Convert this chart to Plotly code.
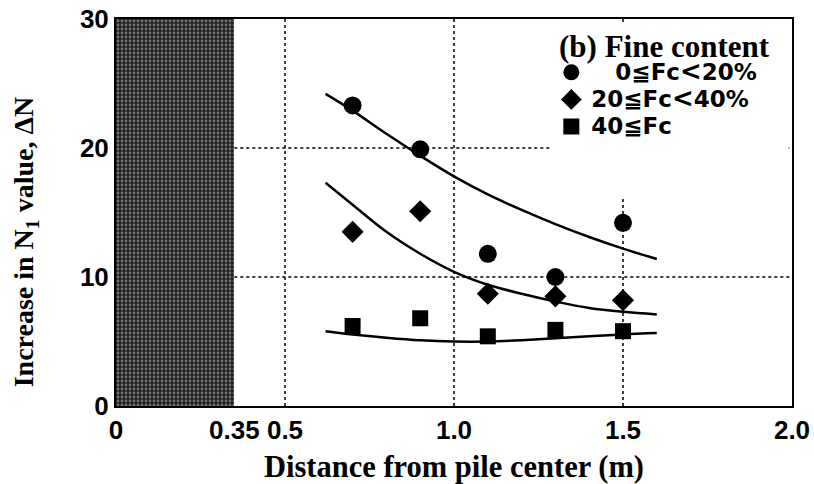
import plotly.graph_objects as go

# ---- data ----
distance = [0.7, 0.9, 1.1, 1.3, 1.5]
dn_fc0_20 = [23.3, 19.9, 11.8, 10.0, 14.2]
dn_fc20_40 = [13.5, 15.1, 8.7, 8.5, 8.2]
dn_fc40 = [6.2, 6.8, 5.4, 5.9, 5.8]

curve_x = [0.62, 0.7, 0.8, 0.9, 1.0, 1.1, 1.2, 1.3, 1.4, 1.5, 1.6]
curve_fc0_20 = [24.2, 22.9, 21.1, 19.4, 17.8, 16.4, 15.2, 14.1, 13.1, 12.2, 11.4]
curve_fc20_40 = [17.3, 15.6, 13.5, 11.8, 10.4, 9.4, 8.7, 8.1, 7.6, 7.3, 7.1]
curve_fc40 = [5.8, 5.55, 5.3, 5.1, 5.0, 5.0, 5.1, 5.25, 5.4, 5.55, 5.65]

pile_radius = 0.35
x_tickvals = [0, 0.35, 0.5, 1.0, 1.5, 2.0]
x_ticktext = ["0", "0.35", "0.5", "1.0", "1.5", "2.0"]
y_tickvals = [0, 10, 20, 30]
x_grid = [0.5, 1.0, 1.5]
y_grid = [10, 20]

LT = "<span style='font-size:26px'>&lt;</span>"
def big(t):
    return "<span style='font-size:23px'>" + t + "</span>"
labels = [big("\u2007 0\u2266Fc" + LT + "20%"), big("20\u2266Fc" + LT + "40%"), big("40\u2266Fc")]

SANS = "Liberation Sans, Arial, sans-serif"
LSANS = "DejaVu Sans, sans-serif"
SERIF = "Liberation Serif, Times New Roman, serif"

fig = go.Figure()

# shaded pile zone
fig.add_trace(go.Bar(
    x=[pile_radius / 2], y=[30], width=[pile_radius],
    marker=dict(color="#202020", line_width=0,
                pattern=dict(shape=".", fgcolor="#c4c4c4", bgcolor="#202020", size=4, solidity=0.4)),
    showlegend=False, hoverinfo="skip"))

for cy in (curve_fc0_20, curve_fc20_40, curve_fc40):
    fig.add_trace(go.Scatter(x=curve_x, y=cy, mode="lines", line=dict(color="black", width=2.5, shape="spline"),
                             showlegend=False, hoverinfo="skip"))

for yv, sym, size, lab in ((dn_fc0_20, "circle", 18, labels[0]),
                           (dn_fc20_40, "diamond", 17, labels[1]),
                           (dn_fc40, "square", 16, labels[2])):
    fig.add_trace(go.Scatter(x=distance, y=yv, mode="markers", name=lab,
                             marker=dict(symbol=sym, size=size, color="black")))

shapes = []
for xv in x_grid:
    shapes.append(dict(type="line", xref="x", yref="y", x0=xv, x1=xv, y0=0, y1=30, layer="below",
                       line=dict(color="black", width=1.5, dash="3px,3px")))
for yv in y_grid:
    shapes.append(dict(type="line", xref="x", yref="y", x0=pile_radius, x1=2.0, y0=yv, y1=yv, layer="below",
                       line=dict(color="black", width=1.5, dash="3px,3px")))
# white legend box hiding grid
shapes.append(dict(type="rect", xref="x", yref="y", x0=1.284, x1=1.99, y0=16.1, y1=29.6, layer="below",
                   line_width=0, fillcolor="white"))

annotations = [
    dict(text="(b) Fine content", xref="paper", yref="paper", x=0.652, y=0.93, xanchor="left", yanchor="middle",
         showarrow=False, font=dict(family=SERIF, size=31, color="black", weight="bold")),
    dict(text="Increase in N<sub>1</sub> value, \u0394N", xref="paper", yref="paper", x=-0.1346, y=0.423,
         xanchor="center", yanchor="middle", textangle=-90, showarrow=False,
         font=dict(family=SERIF, size=28, color="black", weight="bold")),
]

fig.update_layout(
    width=814, height=484,
    margin=dict(l=116, r=22, t=19, b=78),
    plot_bgcolor="white", paper_bgcolor="white",
    shapes=shapes,
    annotations=annotations,
    bargap=0,
    legend=dict(x=0.644, y=0.91, xanchor="left", yanchor="top", bgcolor="rgba(0,0,0,0)",
                font=dict(family=LSANS, size=18.5, color="black", weight="bold"),
                itemsizing="trace", tracegroupgap=0),
    xaxis=dict(range=[0, 2.0], tickvals=x_tickvals, ticktext=x_ticktext, showgrid=False, zeroline=False,
               showline=True, linecolor="black", linewidth=2, mirror=True, ticks="", automargin=False,
               tickfont=dict(family=SANS, size=26, color="black", weight="bold"),
               title=dict(text="Distance from pile center (m)", standoff=12,
                          font=dict(family=SERIF, size=30.5, color="black", weight="bold"))),
    yaxis=dict(range=[0, 30], tickvals=y_tickvals, showgrid=False, zeroline=False,
               showline=True, linecolor="black", linewidth=2, mirror=True, ticks="", automargin=False,
               tickfont=dict(family=SANS, size=26, color="black", weight="bold")),
)

fig.write_html("out.html")
